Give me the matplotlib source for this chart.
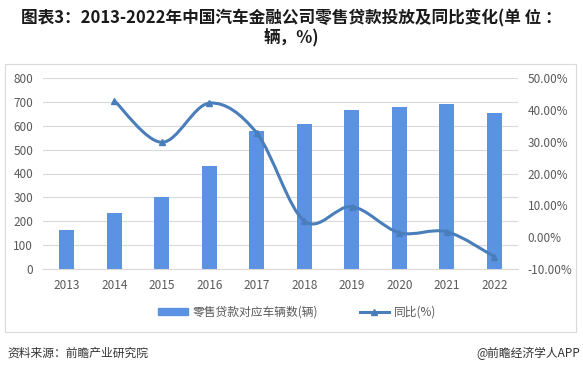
import matplotlib
matplotlib.use("Agg")
import matplotlib.pyplot as plt
import numpy as np
from matplotlib.path import Path
from matplotlib.patches import PathPatch, Rectangle
from matplotlib.lines import Line2D
from matplotlib.ticker import FuncFormatter

plt.rcParams['font.family'] = ['Noto Sans CJK SC', 'DejaVu Sans']

# data
years = ['2013', '2014', '2015', '2016', '2017', '2018', '2019', '2020', '2021', '2022']
vehicles = [163, 236, 300, 432, 577, 606, 665, 679, 690, 654]
yoy_years = ['2014', '2015', '2016', '2017', '2018', '2019', '2020', '2021', '2022']
yoy = [42.9, 29.8, 42.1, 32.7, 5.1, 9.6, 1.4, 1.7, -6.1]

bar_color = '#5B92E2'
line_color = '#4A7EBB'
tick_color = '#595959'

fig = plt.figure(figsize=(5.83, 3.74), dpi=100)
fig.patch.set_facecolor('white')

# grey chart frame
fig.add_artist(Rectangle((5 / 583, 1 - 332 / 374), 571 / 583, 268 / 374,
                         transform=fig.transFigure, fill=False,
                         edgecolor='#D9D9D9', linewidth=0.8))

ax = fig.add_axes([43 / 583, 1 - 269 / 374, 475 / 583, 191 / 374])
x = np.arange(len(years))
ax.bar(x, vehicles, width=0.32, color=bar_color, zorder=2)
ax.set_xlim(-0.5, len(years) - 0.5)
ax.set_ylim(0, 800)
ax.set_yticks(range(0, 801, 100))
ax.set_xticks(x)
ax.set_xticklabels(years)
ax.grid(axis='y', color='#D9D9D9', linewidth=0.8, zorder=0)
ax.set_axisbelow(True)
for s in ax.spines.values():
    s.set_visible(False)
ax.spines['bottom'].set_visible(True)
ax.spines['bottom'].set_color('#D9D9D9')
ax.tick_params(length=0, labelsize=8.5, colors=tick_color)
ax.tick_params(axis='x', pad=7)
ax.tick_params(axis='y', pad=7)

ax2 = ax.twinx()
ax2.set_ylim(-10, 50)
ax2.set_yticks(range(-10, 51, 10))
ax2.yaxis.set_major_formatter(FuncFormatter(lambda v, p: '%.2f%%' % v))
for s in ax2.spines.values():
    s.set_visible(False)
ax2.tick_params(length=0, labelsize=8.5, colors=tick_color, pad=7)

# smoothed line (bezier through the points, like Excel's smooth line)
px = np.array([years.index(y) for y in yoy_years], dtype=float)
py = np.array(yoy, dtype=float)
verts = [(px[0], py[0])]
codes = [Path.MOVETO]
n = len(px)
for i in range(n - 1):
    p0 = np.array([px[max(i - 1, 0)], py[max(i - 1, 0)]])
    p1 = np.array([px[i], py[i]])
    p2 = np.array([px[i + 1], py[i + 1]])
    p3 = np.array([px[min(i + 2, n - 1)], py[min(i + 2, n - 1)]])
    c1 = p1 + (p2 - p0) / 6
    c2 = p2 - (p3 - p1) / 6
    verts += [tuple(c1), tuple(c2), tuple(p2)]
    codes += [Path.CURVE4] * 3
ax2.add_patch(PathPatch(Path(verts, codes), facecolor='none',
                        edgecolor=line_color, linewidth=2.2, zorder=3))
ax2.plot(px, py, linestyle='none', marker='^', markersize=4.5,
         color=line_color, zorder=4)

# legend
handles = [Rectangle((0, 0), 1, 1, color=bar_color),
           Line2D([], [], color=line_color, linewidth=2.2, marker='^', markersize=4.5)]
fig.legend(handles, ['零售贷款对应车辆数(辆)', '同比(%)'], loc='center',
           bbox_to_anchor=(0.51, 1 - 312 / 374), ncol=2, frameon=False,
           fontsize=8.5, labelcolor=tick_color, handlelength=2.5,
           handleheight=0.6, columnspacing=3.5, handletextpad=0.4)

fig.text(0.5, 1 - 18 / 374, '图表3：2013-2022年中国汽车金融公司零售贷款投放及同比变化(单 位 ：',
         ha='center', va='center', fontsize=12, fontweight='bold', color='#1a1a1a')
fig.text(0.5, 1 - 38 / 374, '辆，%)', ha='center', va='center',
         fontsize=12, fontweight='bold', color='#1a1a1a')

fig.text(7 / 583, 1 - 353 / 374, '资料来源：前瞻产业研究院', ha='left', va='center',
         fontsize=8.5, color='#333333')
fig.text(580 / 583, 1 - 353 / 374, '@前瞻经济学人APP', ha='right', va='center',
         fontsize=8.5, color='#333333')

fig.savefig('out.png', dpi=100)
